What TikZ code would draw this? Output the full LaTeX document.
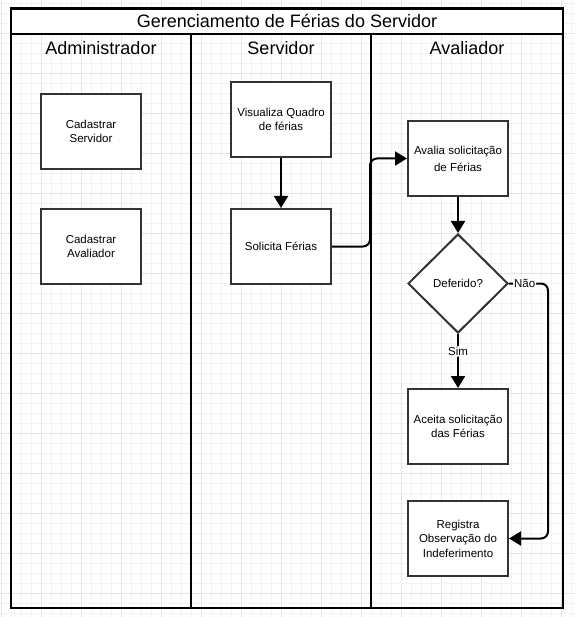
\documentclass[tikz,border=0pt]{standalone}
\usepackage{fontspec}
\setmainfont{Liberation Sans}
\usetikzlibrary{shapes.geometric,arrows.meta}
\definecolor{gridminor}{HTML}{F3F1FB}
\definecolor{gridmajor}{HTML}{E6E2F5}
\definecolor{boxline}{HTML}{333333}
\tikzset{
  stepbox/.style={draw=boxline, line width=2pt, fill=white, minimum width=100pt, minimum height=75pt, align=center, font=\fontsize{11.5}{14.5}\selectfont, inner sep=2pt},
  decide/.style={draw=boxline, line width=2pt, fill=white, diamond, minimum width=100pt, minimum height=99pt, inner sep=0pt, font=\fontsize{11.5}{14}\selectfont},
  conn/.style={line width=2pt, -{Triangle[length=12pt,width=14pt]}, rounded corners=7pt},
  lanelabel/.style={font=\fontsize{18}{21}\selectfont, inner sep=0pt},
  edgelabel/.style={fill=white, inner sep=1pt, font=\fontsize{11.5}{14}\selectfont},
  lane/.style={line width=2.6pt, black}
}
\begin{document}
\begin{tikzpicture}[x=1pt,y=-1pt]
\useasboundingbox (0,0) rectangle (575,617);
\fill[white] (0,0) rectangle (575,617);
% grid
\foreach \i in {0,...,57} {\draw[gridminor, line width=0.8pt] ({1.5+10*\i},0) -- ({1.5+10*\i},617);}
\foreach \i in {0,...,61} {\draw[gridminor, line width=0.8pt] (0,{3+10*\i}) -- (575,{3+10*\i});}
\foreach \i in {0,...,14} {\draw[gridmajor, line width=0.8pt] ({1.5+40*\i},0) -- ({1.5+40*\i},617);}
\foreach \i in {0,...,14} {\draw[gridmajor, line width=0.8pt] (0,{33+40*\i}) -- (575,{33+40*\i});}
% pool
\fill[white] (11,8.5) rectangle (563,34);
\draw[lane] (11,8.5) rectangle (563,608);
\draw[lane] (11,34) -- (563,34);
\draw[lane] (191,34) -- (191,608);
\draw[lane] (371,34) -- (371,608);
\node[lanelabel] (pooltitle) at (287,21) {Gerenciamento de Férias do Servidor};
\node[lanelabel] (ladm) at (101,48) {Administrador};
\node[lanelabel] (lser) at (281,48) {Servidor};
\node[lanelabel] (lava) at (467,48) {Avaliador};
% nodes
\node[stepbox] (cs) at (91,131.5) {Cadastrar\\Servidor};
\node[stepbox] (ca) at (91,246.5) {Cadastrar\\Avaliador};
\node[stepbox] (vq) at (281,119.5) {Visualiza Quadro\\de férias};
\node[stepbox] (sf) at (281,246.5) {Solicita Férias};
\node[stepbox, font=\fontsize{11.5}{17}\selectfont] (as) at (458,158.5) {Avalia solicitação\\de Férias};
\node[decide] (df) at (458,283.5) {Deferido?};
\node[stepbox] (ac) at (458,426.5) {Aceita solicitação\\das Férias};
\node[stepbox] (ro) at (458,538.5) {Registra\\Observação do\\Indeferimento};
% connectors
\draw[conn] (vq) -- (sf);
\draw[conn] (sf.east) -- (370,246.5) -- (370,158.5) -- (as.west);
\draw[conn] (as) -- (df);
\draw[conn] (df.south) -- node[edgelabel, pos=0.32] (sim) {Sim} (ac.north);
\draw[conn] (df.east) -- node[edgelabel, pos=0.4] (nao) {Não} (548,283.5) -- (548,538.5) -- (ro.east);
\end{tikzpicture}
\end{document}
